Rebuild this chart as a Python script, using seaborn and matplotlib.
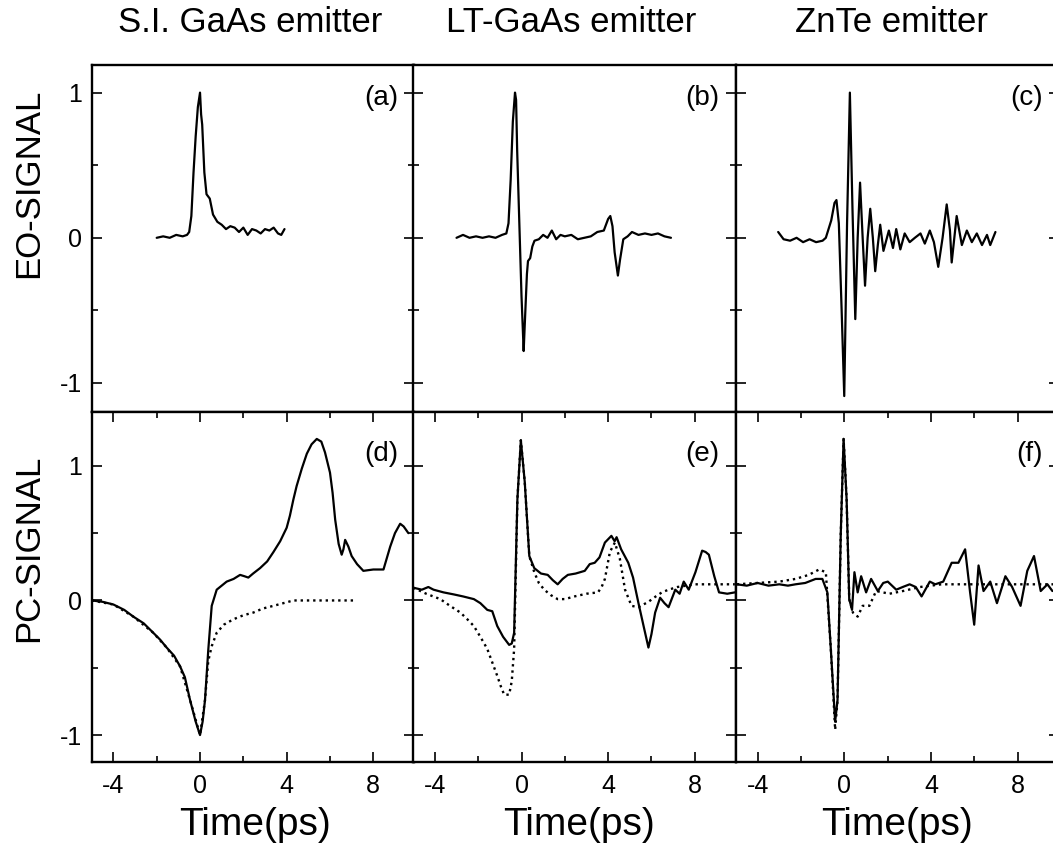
import matplotlib
matplotlib.use("Agg")
import matplotlib.pyplot as plt
import seaborn as sns
from matplotlib.ticker import MultipleLocator

sns.set_style("ticks")
plt.rcParams['font.family'] = ['Liberation Sans', 'DejaVu Sans']
plt.rcParams['axes.unicode_minus'] = False
plt.rcParams['text.color'] = 'black'
plt.rcParams['xtick.color'] = 'black'
plt.rcParams['ytick.color'] = 'black'
plt.rcParams['axes.labelcolor'] = 'black'

# ---- data ----
titles = ['S.I. GaAs emitter', 'LT-GaAs emitter', 'ZnTe emitter']
row_labels = ['EO-SIGNAL', 'PC-SIGNAL']
letters = ['(a)', '(b)', '(c)', '(d)', '(e)', '(f)']
xtick_major = [-4, 0, 4, 8]

# (a) EO signal, S.I. GaAs
t_a = [-2.0, -1.7, -1.4, -1.1, -0.8, -0.6, -0.5, -0.4, -0.3, -0.2, -0.1, 0.0, 0.05, 0.1,
       0.2, 0.3, 0.45, 0.6, 0.8, 1.0, 1.2, 1.4, 1.6, 1.8, 2.0, 2.2, 2.4, 2.6, 2.8, 3.0,
       3.2, 3.4, 3.6, 3.75, 3.9]
eo_a = [0.0, 0.01, 0.0, 0.02, 0.01, 0.02, 0.04, 0.15, 0.45, 0.7, 0.9, 1.0, 0.85, 0.78,
        0.45, 0.3, 0.27, 0.16, 0.11, 0.09, 0.06, 0.08, 0.07, 0.04, 0.07, 0.02, 0.06, 0.05,
        0.03, 0.06, 0.05, 0.07, 0.03, 0.02, 0.06]

# (b) EO signal, LT-GaAs
t_b = [-3.0, -2.7, -2.4, -2.1, -1.8, -1.5, -1.2, -0.9, -0.7, -0.6, -0.5, -0.4, -0.3, -0.25,
       -0.2, -0.1, 0.0, 0.1, 0.15, 0.25, 0.3, 0.4, 0.5, 0.6, 0.8, 1.0, 1.2, 1.4, 1.6, 1.8,
       2.0, 2.3, 2.6, 2.9, 3.2, 3.5, 3.8, 4.0, 4.1, 4.2, 4.3, 4.45, 4.55, 4.7, 4.9, 5.1,
       5.4, 5.7, 6.0, 6.3, 6.6, 6.9]
eo_b = [0.0, 0.02, 0.0, 0.01, 0.0, 0.01, 0.0, 0.02, 0.03, 0.1, 0.4, 0.8, 1.0, 0.95,
        0.6, 0.1, -0.4, -0.78, -0.6, -0.25, -0.16, -0.14, -0.06, -0.02, -0.01, 0.02, 0.0,
        0.05, -0.01, 0.02, 0.01, 0.02, -0.01, 0.0, 0.01, 0.04, 0.05, 0.13, 0.15, 0.08,
        -0.1, -0.26, -0.15, -0.01, 0.01, 0.04, 0.02, 0.03, 0.02, 0.03, 0.01, 0.0]

# (c) EO signal, ZnTe
t_c = [-3.05, -2.8, -2.5, -2.2, -1.9, -1.6, -1.3, -1.0, -0.85, -0.6, -0.45, -0.36, -0.25,
       -0.12, 0.0, 0.13, 0.26, 0.38, 0.51, 0.62, 0.73, 0.85, 0.96, 1.08, 1.2, 1.32, 1.43,
       1.55, 1.66, 1.81, 2.06, 2.25, 2.4, 2.59, 2.79, 3.02, 3.26, 3.52, 3.72, 3.95, 4.14,
       4.34, 4.54, 4.73, 4.88, 4.96, 5.19, 5.43, 5.66, 5.89, 6.12, 6.36, 6.59, 6.74, 6.98]
eo_c = [0.04, -0.01, -0.02, 0.0, -0.03, -0.01, -0.03, -0.02, 0.0, 0.12, 0.24, 0.26, 0.1,
        -0.5, -1.09, 0.1, 1.0, 0.2, -0.56, 0.0, 0.38, 0.0, -0.33, 0.0, 0.2, 0.0, -0.23,
        -0.05, 0.09, -0.09, 0.05, -0.07, 0.06, -0.08, 0.03, -0.03, 0.0, 0.03, -0.04, 0.05,
        -0.03, -0.2, 0.0, 0.23, 0.05, -0.17, 0.15, -0.05, 0.05, -0.03, 0.03, -0.05, 0.02,
        -0.05, 0.04]

# (d) PC signal, S.I. GaAs (solid = measured, dotted = second trace)
t_d = [-5.0, -4.5, -4.0, -3.5, -3.08, -2.6, -2.16, -1.85, -1.54, -1.2, -0.92, -0.7, -0.46,
       -0.2, 0.0, 0.12, 0.23, 0.38, 0.54, 0.77, 1.0, 1.23, 1.55, 1.85, 2.05, 2.23, 2.45,
       2.77, 3.1, 3.39, 3.7, 4.0, 4.15, 4.31, 4.46, 4.7, 4.93, 5.15, 5.39, 5.6, 5.77, 6.0,
       6.12, 6.24, 6.4, 6.54, 6.62, 6.7, 6.85, 7.0, 7.25, 7.54, 8.0, 8.47, 8.78, 9.0, 9.24,
       9.4, 9.62]
pc_d = [0.0, -0.01, -0.03, -0.07, -0.12, -0.17, -0.24, -0.29, -0.35, -0.41, -0.49, -0.57,
        -0.74, -0.9, -1.0, -0.9, -0.74, -0.37, -0.04, 0.08, 0.11, 0.14, 0.16, 0.19, 0.18,
        0.17, 0.2, 0.24, 0.29, 0.36, 0.44, 0.54, 0.63, 0.75, 0.85, 0.98, 1.09, 1.16, 1.2,
        1.18, 1.1, 0.95, 0.8, 0.6, 0.42, 0.34, 0.38, 0.45, 0.4, 0.33, 0.27, 0.22, 0.23, 0.23,
        0.4, 0.5, 0.57, 0.55, 0.5]
t_d2 = [-5.0, -4.0, -3.08, -2.16, -1.54, -0.92, -0.46, 0.0, 0.23, 0.38, 0.54, 0.77, 1.1,
        1.54, 2.0, 2.46, 2.9, 3.39, 3.85, 4.31, 5.0, 5.7, 6.4, 7.08]
pc_d2 = [0.0, -0.03, -0.12, -0.24, -0.35, -0.49, -0.74, -1.0, -0.74, -0.45, -0.34, -0.24,
         -0.18, -0.14, -0.11, -0.09, -0.06, -0.04, -0.02, 0.0, 0.0, 0.0, 0.0, 0.0]

# (e) PC signal, LT-GaAs
t_e = [-5.0, -4.6, -4.3, -4.06, -3.6, -3.13, -2.7, -2.2, -1.9, -1.58, -1.35, -1.12, -0.85,
       -0.57, -0.45, -0.34, -0.19, -0.03, 0.15, 0.36, 0.59, 0.9, 1.21, 1.45, 1.67, 1.9,
       2.14, 2.5, 2.92, 3.15, 3.38, 3.6, 3.85, 4.15, 4.3, 4.39, 4.6, 4.93, 5.15, 5.4, 5.65,
       5.86, 6.0, 6.17, 6.4, 6.6, 6.79, 7.1, 7.3, 7.49, 7.72, 8.03, 8.34, 8.5, 8.65, 8.9,
       9.12, 9.5, 9.85]
pc_e = [0.095, 0.08, 0.1, 0.08, 0.06, 0.045, 0.03, 0.01, -0.02, -0.07, -0.08, -0.19, -0.27,
        -0.33, -0.32, -0.24, 0.75, 1.19, 0.88, 0.33, 0.24, 0.2, 0.19, 0.15, 0.12, 0.16, 0.19,
        0.2, 0.22, 0.27, 0.28, 0.32, 0.43, 0.48, 0.44, 0.47, 0.38, 0.28, 0.17, -0.02, -0.2,
        -0.35, -0.25, -0.09, 0.02, -0.02, -0.05, 0.08, 0.05, 0.14, 0.08, 0.21, 0.37, 0.36,
        0.34, 0.18, 0.06, 0.05, 0.06]
t_e2 = [-5.0, -4.4, -3.75, -3.3, -2.82, -2.5, -2.2, -1.9, -1.58, -1.35, -1.12, -0.95, -0.8,
        -0.57, -0.45, -0.34, -0.19, -0.03, 0.15, 0.36, 0.59, 0.8, 1.05, 1.35, 1.67, 2.0,
        2.45, 3.0, 3.53, 3.7, 3.85, 4.08, 4.31, 4.54, 4.78, 5.08, 5.4, 5.86, 6.2, 6.48, 6.79,
        7.2, 8.03, 9.0, 9.85]
pc_e2 = [0.095, 0.05, 0.01, -0.04, -0.09, -0.14, -0.19, -0.27, -0.36, -0.46, -0.56, -0.64,
         -0.7, -0.7, -0.6, -0.36, 0.75, 1.19, 0.88, 0.33, 0.21, 0.13, 0.08, 0.04, 0.01, 0.01,
         0.03, 0.05, 0.06, 0.1, 0.16, 0.36, 0.43, 0.31, 0.08, -0.04, -0.05, -0.01, 0.03,
         0.06, 0.08, 0.1, 0.12, 0.12, 0.12]

# (f) PC signal, ZnTe
t_f = [-4.96, -4.5, -4.0, -3.5, -3.0, -2.6, -2.25, -1.8, -1.32, -1.01, -0.78, -0.62, -0.42,
       -0.31, -0.16, -0.03, 0.11, 0.23, 0.36, 0.47, 0.62, 0.78, 1.01, 1.24, 1.55, 1.8, 2.01,
       2.4, 2.7, 3.02, 3.3, 3.57, 3.95, 4.2, 4.57, 4.96, 5.27, 5.58, 5.81, 6.0, 6.2, 6.43,
       6.74, 7.05, 7.44, 7.75, 8.14, 8.45, 8.76, 9.07, 9.38, 9.61]
pc_f = [0.12, 0.11, 0.13, 0.11, 0.12, 0.11, 0.12, 0.13, 0.16, 0.16, 0.06, -0.36, -0.9,
        -0.74, 0.5, 1.2, 0.75, 0.01, -0.07, 0.21, 0.06, 0.18, 0.06, 0.16, 0.07, 0.13, 0.14,
        0.08, 0.1, 0.12, 0.1, 0.03, 0.14, 0.12, 0.14, 0.28, 0.28, 0.38, 0.06, -0.18, 0.26,
        0.07, 0.14, -0.02, 0.18, 0.1, -0.04, 0.22, 0.33, 0.07, 0.12, 0.07]
t_f2 = [-4.96, -4.0, -3.0, -2.25, -1.64, -1.16, -0.85, -0.62, -0.42, -0.31, -0.16, -0.03,
        0.11, 0.23, 0.4, 0.62, 0.85, 1.16, 1.47, 2.09, 2.71, 3.5, 4.5, 6.0, 8.0, 9.7]
pc_f2 = [0.12, 0.13, 0.14, 0.16, 0.19, 0.23, 0.21, -0.36, -0.96, -0.74, 0.5, 1.2, 0.75,
         0.01, -0.09, -0.12, -0.04, -0.04, 0.07, 0.05, 0.07, 0.1, 0.12, 0.12, 0.12, 0.12]

solid = [(t_a, eo_a), (t_b, eo_b), (t_c, eo_c), (t_d, pc_d), (t_e, pc_e), (t_f, pc_f)]
dotted = [None, None, None, (t_d2, pc_d2), (t_e2, pc_e2), (t_f2, pc_f2)]

# ---- figure ----
fig = plt.figure(figsize=(10.53, 8.49), dpi=100)
lefts = [0.0871, 0.3924, 0.6989]
width = 0.3065
rows = [(0.5147, 0.4087, (-1.2, 1.19)), (0.1025, 0.4122, (-1.2, 1.40))]

axes = []
for r, (bottom, height, ylim) in enumerate(rows):
    for c, left in enumerate(lefts):
        i = r * 3 + c
        ax = fig.add_axes([left, bottom, width, height])
        ts, ys = solid[i]
        sns.lineplot(x=ts, y=ys, ax=ax, color='black', lw=1.6, estimator=None)
        if dotted[i] is not None:
            td, yd = dotted[i]
            sns.lineplot(x=td, y=yd, ax=ax, color='black', lw=1.7, ls=':', estimator=None)
        ax.set_xlim(-5, 9.9)
        ax.set_ylim(*ylim)
        ax.set_xticks(xtick_major)
        ax.xaxis.set_minor_locator(MultipleLocator(2))
        ax.set_yticks([-1, 0, 1])
        ax.yaxis.set_minor_locator(MultipleLocator(0.5))
        ax.tick_params(which='both', direction='in', left=True, right=True,
                       top=(r == 1), bottom=(r == 1), width=1.2, labelsize=18)
        ax.tick_params(which='major', length=7)
        ax.tick_params(which='minor', length=4)
        ax.tick_params(axis='x', pad=9)
        ax.tick_params(axis='y', pad=7)
        if r == 0:
            ax.set_xticklabels([])
        if c != 0:
            ax.set_yticklabels([])
        for sp in ax.spines.values():
            sp.set_linewidth(1.7)
            sp.set_color('black')
        ax.set_xlabel('')
        ax.set_ylabel('')
        ax.text(0.95, 0.905 if r == 0 else 0.88, letters[i], transform=ax.transAxes,
                ha='right', va='center', fontsize=20)
        axes.append(ax)

title_x = [0.238, 0.542, 0.847]
for x, t in zip(title_x, titles):
    fig.text(x, 0.974, t, ha='center', va='center', fontsize=25)

time_x = [0.242, 0.550, 0.852]
for x in time_x:
    fig.text(x, 0.028, 'Time(ps)', ha='center', va='center', fontsize=28)

fig.text(0.027, 0.784, row_labels[0], rotation=90, ha='center', va='center', fontsize=25)
fig.text(0.027, 0.354, row_labels[1], rotation=90, ha='center', va='center', fontsize=25)

fig.savefig('out.png', dpi=100)
